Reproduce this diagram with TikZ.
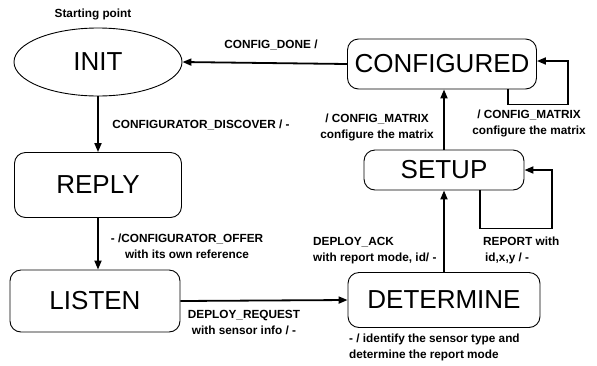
\documentclass[tikz,border=0pt]{standalone}
\usepackage{fontspec}
\setmainfont{Liberation Sans}
\usetikzlibrary{shapes.geometric, arrows.meta, positioning, calc}

\tikzset{
  state/.style={draw, line width=0.9pt, rounded corners=11pt, fill=white,
    font=\fontsize{26}{29}\selectfont, inner sep=0pt},
  trans/.style={line width=1.8pt, -{Triangle[length=9pt,width=7pt]}},
  lbl/.style={font=\bfseries\fontsize{11.8}{16}\selectfont, inner sep=0pt, align=center}
}

\begin{document}
\begin{tikzpicture}[x=1pt,y=-1pt]
\useasboundingbox (0,0) rectangle (597,365);

% states
\node[state, ellipse, rounded corners=0pt, minimum width=168pt, minimum height=68pt] (init) at (98,62) {INIT};
\node[state, minimum width=189pt, minimum height=50pt] (configured) at (442,64) {CONFIGURED};
\node[state, minimum width=167pt, minimum height=65pt] (reply) at (98,185) {REPLY};
\node[state, minimum width=170pt, minimum height=62pt] (listen) at (95,301) {LISTEN};
\node[state, minimum width=160pt, minimum height=40pt] (setup) at (444,170) {SETUP};
\node[state, minimum width=192pt, minimum height=55pt] (determine) at (444,300) {DETERMINE};

\node[lbl] (start) at (93,14) {Starting point};

% transitions
\draw[trans] (configured.west) -- (init.east);
\draw[trans] (init.south) -- (init.south |- reply.north);
\draw[trans] (reply.south) -- (reply.south |- listen.north);
\draw[trans] (listen.east) -- (determine.west);
\draw[trans] (determine.north -| setup.south) -- (setup.south);
\draw[trans] (setup.north) -- (setup.north |- configured.south);

% self loops
\draw[trans] ([xshift=66pt]configured.south) |- ++(60,15) |- ([yshift=3pt]configured.east);
\draw[trans] ([xshift=36pt]setup.south) |- ++(72,38) |- (setup.east);

% transition labels
\node[lbl] (l-done) at (271,45) {CONFIG\_DONE /};
\node[lbl] (l-discover) at (201,125) {CONFIGURATOR\_DISCOVER / -};
\node[lbl] (l-offer) at (187,246) {- /CONFIGURATOR\_OFFER\\with its own reference};
\node[lbl] (l-request) at (244,322) {DEPLOY\_REQUEST\\with sensor info / -};
\node[lbl] (l-matrix) at (377,127) {/ CONFIG\_MATRIX\\configure the matrix};
\node[lbl] (l-matrix2) at (529,123) {/ CONFIG\_MATRIX\\configure the matrix};
\node[lbl, anchor=west, align=left] (l-report) at (483,250) {REPORT with\\\,id,x,y / -};
\node[lbl, anchor=west, align=left] (l-ack) at (313,251) {DEPLOY\_ACK\\with report mode, id/ -};
\node[lbl, anchor=west, align=left] (l-identify) at (349,347) {- / identify the sensor type and\\determine the report mode};
\end{tikzpicture}
\end{document}
